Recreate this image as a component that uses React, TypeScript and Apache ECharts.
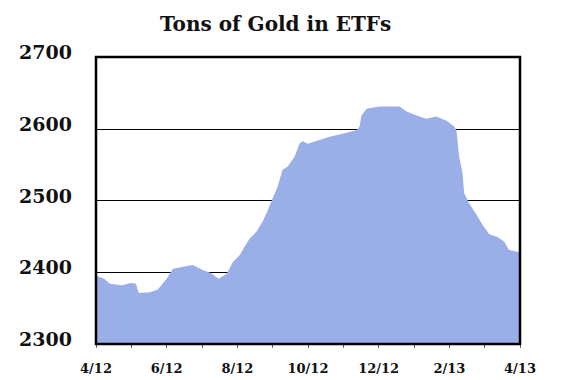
import React, { useEffect, useRef } from "react";
import * as echarts from "echarts";

// Months since April 2012 (0 = 4/12, 12 = 4/13)
const monthOffsets = [
  0, 0.23, 0.4, 0.73, 0.99, 1.13, 1.21, 1.53, 1.75, 2.0, 2.18, 2.51, 2.74, 3.02,
  3.25, 3.47, 3.7, 3.87, 4.07, 4.15, 4.35, 4.55, 4.72, 4.86, 5.0, 5.14, 5.28,
  5.42, 5.62, 5.76, 5.85, 5.99, 6.24, 6.61, 6.98, 7.37, 7.46, 7.51, 7.66, 8.02,
  8.59, 8.79, 9.15, 9.35, 9.63, 9.92, 10.14, 10.2, 10.28, 10.37, 10.42, 10.56,
  10.76, 10.93, 11.13, 11.36, 11.55, 11.69, 11.89, 12,
];
const tons = [
  2395, 2391, 2384, 2382, 2385, 2384, 2371, 2372, 2376, 2391, 2405, 2408, 2410,
  2403, 2399, 2391, 2398, 2414, 2424, 2431, 2447, 2457, 2471, 2486, 2503, 2519,
  2543, 2547, 2561, 2579, 2583, 2579, 2583, 2589, 2593, 2598, 2603, 2618, 2628,
  2631, 2631, 2624, 2617, 2614, 2617, 2611, 2603, 2598, 2561, 2539, 2510, 2496,
  2481, 2467, 2453, 2449, 2443, 2431, 2429, 2428,
];
const monthTickLabels = [
  "4/12", "", "6/12", "", "8/12", "", "10/12", "", "12/12", "", "2/13", "", "4/13",
];
const yMin = 2300;
const yMax = 2700;
const yStep = 100;
const title = "Tons of Gold in ETFs";

const FONT = "DejaVu Serif";

export default function App() {
  const ref = useRef<HTMLDivElement>(null);
  useEffect(() => {
    if (!ref.current) return;
    const chart = echarts.init(ref.current, null, { renderer: "svg" });
    chart.setOption({
      animation: false,
      backgroundColor: "#ffffff",
      title: {
        text: title,
        left: 155,
        top: 9,
        textStyle: {
          fontFamily: FONT,
          fontWeight: "bold",
          fontSize: 20,
          color: "#111",
        },
      },
      grid: {
        left: 96,
        right: 46,
        top: 57,
        bottom: 36,
        show: true,
        borderColor: "#000",
        borderWidth: 2.5,
        backgroundColor: "transparent",
        z: 10,
      },
      xAxis: {
        type: "value",
        min: 0,
        max: 12,
        interval: 1,
        axisLine: { show: false },
        axisTick: { show: true, length: 4, lineStyle: { color: "#666", width: 1 } },
        splitLine: { show: false },
        axisLabel: {
          margin: 18,
          fontFamily: FONT,
          fontWeight: "bold",
          fontSize: 13,
          color: "#111",
          formatter: (v: number) => monthTickLabels[Math.round(v)] ?? "",
        },
      },
      yAxis: {
        type: "value",
        min: yMin,
        max: yMax,
        interval: yStep,
        axisLine: { show: false },
        axisTick: { show: false },
        splitLine: { show: true, lineStyle: { color: "#000", width: 1 } },
        axisLabel: {
          margin: 24,
          fontFamily: FONT,
          fontWeight: "bold",
          fontSize: 19,
          color: "#111",
          verticalAlign: "bottom",
          lineHeight: 10,
          formatter: (v: number) => String(v),
        },
      },
      series: [
        {
          type: "line",
          data: monthOffsets.map((m, i) => [m, tons[i]]),
          showSymbol: false,
          lineStyle: { width: 0 },
          areaStyle: { color: "#9aafe8", opacity: 1 },
          z: 1,
        },
      ],
    });
    return () => chart.dispose();
  }, []);
  return <div ref={ref} style={{ width: 566, height: 380, position: "absolute", left: 0, top: 0 }} />;
}
